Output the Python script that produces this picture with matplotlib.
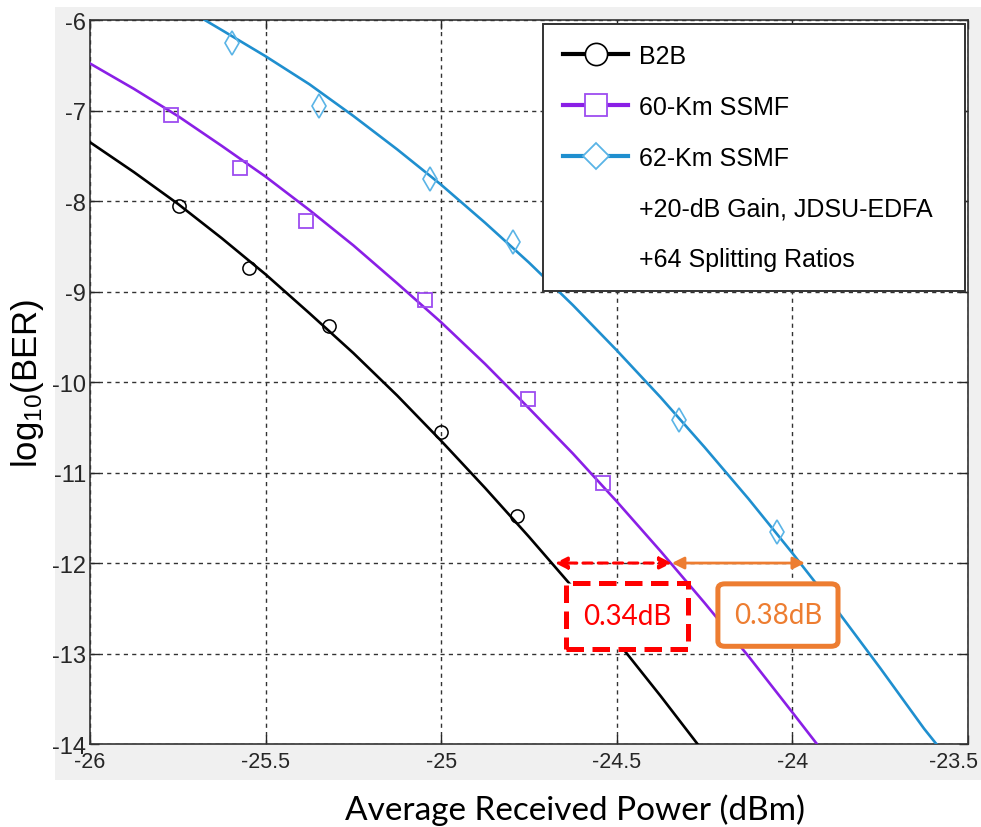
import matplotlib
matplotlib.use("Agg")
import matplotlib.pyplot as plt
from matplotlib.lines import Line2D
from matplotlib.patches import Rectangle, FancyBboxPatch
from matplotlib.transforms import ScaledTranslation

# measured points (markers)
b2b_x = [-25.747, -25.547, -25.32, -25.0, -24.785]
b2b_y = [-8.06, -8.74, -9.38, -10.55, -11.48]
km60_x = [-25.77, -25.573, -25.385, -25.046, -24.753, -24.54]
km60_y = [-7.05, -7.64, -8.22, -9.09, -10.19, -11.12]
km62_x = [-25.596, -25.348, -25.032, -24.796, -24.323, -24.044]
km62_y = [-6.25, -6.95, -7.76, -8.45, -10.42, -11.66]

# fitted curves
b2b_fit_x = [-26.0, -25.875, -25.75, -25.625, -25.5, -25.375, -25.25, -25.125,
             -25.0, -24.875, -24.75, -24.625, -24.5, -24.375, -24.27]
b2b_fit_y = [-7.35, -7.68, -8.03, -8.41, -8.81, -9.24, -9.68, -10.15,
             -10.65, -11.17, -11.71, -12.27, -12.86, -13.47, -14.0]
km60_fit_x = [-26.0, -25.875, -25.75, -25.625, -25.5, -25.375, -25.25, -25.125, -25.0,
              -24.875, -24.75, -24.625, -24.5, -24.375, -24.25, -24.125, -24.0, -23.93]
km60_fit_y = [-6.48, -6.76, -7.06, -7.39, -7.73, -8.10, -8.49, -8.91, -9.34,
              -9.80, -10.29, -10.79, -11.32, -11.87, -12.44, -13.03, -13.65, -14.0]
km62_fit_x = [-25.673, -25.625, -25.5, -25.375, -25.25, -25.125, -25.0, -24.875, -24.75,
              -24.625, -24.5, -24.375, -24.25, -24.125, -24.0, -23.875, -23.75, -23.625, -23.59]
km62_fit_y = [-6.0, -6.11, -6.40, -6.71, -7.06, -7.43, -7.82, -8.24, -8.68,
              -9.15, -9.65, -10.17, -10.72, -11.29, -11.89, -12.51, -13.16, -13.83, -14.0]

legend_labels = ["B2B", "60-Km SSMF", "62-Km SSMF",
                 "+20-dB Gain, JDSU-EDFA", "+64 Splitting Ratios"]

# penalty at BER 1e-12
ref_ber = -12
x_b2b_12 = -24.676
x_60_12 = -24.343
x_62_12 = -23.964

black = "#000000"
purple = "#8a1fe6"
purple_mk = "#9d4cf0"
blue = "#1f8fcf"
blue_mk = "#5ab4e6"
orange = "#ed7d31"

plt.rcParams["mathtext.fontset"] = "custom"
plt.rcParams["mathtext.rm"] = "Liberation Sans"
plt.rcParams["mathtext.default"] = "rm"

fig = plt.figure(figsize=(9.81, 8.28), dpi=100, facecolor="white")
fig.patches.append(Rectangle((0.056, 0.0568), 0.944, 0.9336, transform=fig.transFigure,
                             facecolor="#f0f0f0", edgecolor="none", zorder=-10))
ax = fig.add_axes([0.0917, 0.1002, 0.895, 0.8744])
ax.set_facecolor("white")

ax.plot(b2b_fit_x, b2b_fit_y, color=black, lw=1.9, zorder=3)
ax.plot(km60_fit_x, km60_fit_y, color=purple, lw=1.9, zorder=3)
ax.plot(km62_fit_x, km62_fit_y, color=blue, lw=1.9, zorder=3)
ax.plot(b2b_x, b2b_y, "o", ms=9.5, mfc="none", mec=black, mew=1.1, zorder=4)
ax.plot(km60_x, km60_y, "s", ms=10, mfc="none", mec=purple_mk, mew=1.3, zorder=4)
ax.plot(km62_x, km62_y, "d", ms=12, mfc="none", mec=blue_mk, mew=1.2, zorder=4)

ax.set_xlim(-26, -23.5)
ax.set_ylim(-14, -6)
ax.set_xticks([-26, -25.5, -25, -24.5, -24, -23.5])
ax.set_xticklabels(["-26", "-25.5", "-25", "-24.5", "-24", "-23.5"],
                   family="Liberation Sans", fontsize=15.5)
ax.set_yticks(range(-14, -5))
ax.set_yticklabels([str(v) for v in range(-14, -5)], family="Liberation Sans", fontsize=17)
ax.tick_params(direction="in", length=6.5, width=1, top=True, right=True,
               colors="#262626", labelcolor="#262626")
ax.tick_params(axis="x", pad=5)
ax.tick_params(axis="y", pad=3)
ax.grid(True, color="#333333", linestyle=(0, (3, 3)), lw=1.0)
for s in ax.spines.values():
    s.set_color("#333333")
    s.set_linewidth(1.2)

# last x label would run past the figure edge, nudge it left
last = ax.get_xticklabels()[-1]
last.set_transform(last.get_transform() + ScaledTranslation(-14 / 100, 0, fig.dpi_scale_trans))

ax.set_ylabel("log$_{10}$(BER)", family="Liberation Sans", fontsize=25, labelpad=4)
fig.text(0.586, 0.0217, "Average Received Power (dBm)", family="Lato", fontsize=24,
         ha="center", va="center")

# power penalty arrows
ax.annotate("", xy=(x_b2b_12, ref_ber), xytext=(x_60_12, ref_ber),
            arrowprops=dict(arrowstyle="<|-|>", color="red", lw=2.2, ls=(0, (3, 2)),
                            mutation_scale=18, shrinkA=0, shrinkB=0), zorder=6)
ax.annotate("", xy=(x_60_12, ref_ber), xytext=(x_62_12, ref_ber),
            arrowprops=dict(arrowstyle="<|-|>", color=orange, lw=2.0,
                            mutation_scale=18, shrinkA=0, shrinkB=0), zorder=6)

ax.add_patch(Rectangle((-24.645, -12.95), 0.348, 0.73, facecolor="white", edgecolor="red",
                       lw=3.6, ls=(0, (3.5, 1.7)), zorder=6))
ax.text(-24.471, -12.585, "0.34dB", color="red", family="Lato", fontsize=20,
        ha="center", va="center", zorder=7)
ax.add_patch(FancyBboxPatch((-24.212, -12.92), 0.342, 0.69, boxstyle="round,pad=0,rounding_size=0.02",
                            facecolor="white", edgecolor=orange, lw=3.6, zorder=6,
                            mutation_aspect=2.9))
ax.text(-24.041, -12.575, "0.38dB", color=orange, family="Lato", fontsize=20,
        ha="center", va="center", zorder=7)

handles = [
    Line2D([], [], color=black, lw=3, marker="o", ms=16, mfc="white", mec=black, mew=1.2),
    Line2D([], [], color=purple, lw=3, marker="s", ms=16, mfc="white", mec=purple_mk, mew=1.3),
    Line2D([], [], color=blue, lw=3, marker="D", ms=13, mfc="white", mec=blue_mk, mew=1.3),
    Line2D([], [], lw=0, marker=None),
    Line2D([], [], lw=0, marker=None),
]
leg = ax.legend(handles, legend_labels, loc="upper left",
                bbox_to_anchor=(0.516, 0.619, 0.4806, 0.3755), mode="expand",
                borderaxespad=0, fancybox=False, framealpha=1, edgecolor="#333333",
                prop={"family": "Liberation Sans", "size": 18},
                handlelength=2.6, handletextpad=0.44, labelspacing=1.07,
                borderpad=0.8, numpoints=1)
leg.get_frame().set_linewidth(1.4)
leg.set_zorder(10)

fig.savefig("out.png", dpi=100, facecolor=fig.get_facecolor())
